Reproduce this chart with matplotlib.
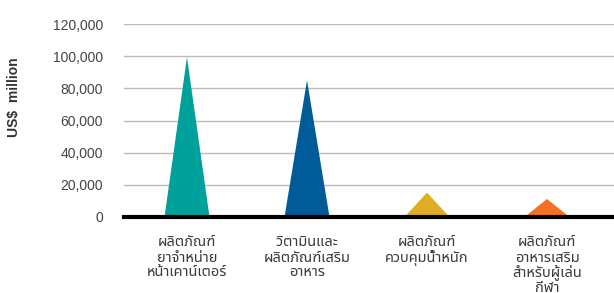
import matplotlib
matplotlib.use("Agg")
import matplotlib.pyplot as plt
import matplotlib.transforms as mtransforms

categories = ["ผลิตภัณฑ์\nยาจำหน่าย\nหน้าเคาน์เตอร์",
              "วิตามินและ\nผลิตภัณฑ์เสริม\nอาหาร",
              "ผลิตภัณฑ์\nควบคุมน้ำหนัก",
              "ผลิตภัณฑ์\nอาหารเสริม\nสำหรับผู้เล่น\nกีฬา"]
values = [99500, 85000, 15200, 11200]
colors = ["#00A19A", "#005B99", "#E0AE25", "#F37121"]
yticks = [0, 20000, 40000, 60000, 80000, 100000, 120000]

thai_fams = ["Noto Sans Thai", "Anuphan", "IBM Plex Sans Thai", "DejaVu Sans"]
latin_fams = ["Liberation Sans", "DejaVu Sans"]

fig = plt.figure(figsize=(6.14, 2.93), dpi=100)
ax = fig.add_axes([124/614, 1-217/293, 1-124/614, (217-24)/293])

hw = 0.1875
for i, (v, c) in enumerate(zip(values, colors)):
    ax.fill([i-hw, i, i+hw], [0, v, 0], color=c, lw=0, zorder=3)

ax.set_xlim(-0.525, 3.558)
ax.set_ylim(0, 120000)
ax.set_yticks(yticks)
ax.set_yticklabels([f"{t:,}" for t in yticks], fontsize=10, color="#444444", family=latin_fams)
ax.tick_params(axis='y', length=0, pad=15)
ax.set_xticks(range(len(categories)))
ax.set_xticklabels([])
ax.tick_params(axis='x', length=0)
for s in ax.spines.values():
    s.set_visible(False)
ax.grid(axis='y', color="#bbbbbb", lw=1)
ax.set_axisbelow(True)
ax.axhline(0, color="black", lw=3, zorder=4, clip_on=False)

# category labels, one text per line for even spacing
trans = mtransforms.blended_transform_factory(ax.transData, fig.transFigure)
first_baseline = 246.5
step = 15.0
for i, lab in enumerate(categories):
    for k, line in enumerate(lab.split("\n")):
        ypx = first_baseline + k * step
        ax.text(i, 1 - ypx / 293, line, transform=trans, ha='center', va='baseline',
                fontsize=10.5, color="#3a3a3a", family=thai_fams, clip_on=False)

fig.text(14/614, 1-97/293, "US$  million", rotation=90, ha='center', va='center',
         fontsize=10, fontweight='bold', color="#333333", family=latin_fams)

fig.savefig("out.png", dpi=100)
